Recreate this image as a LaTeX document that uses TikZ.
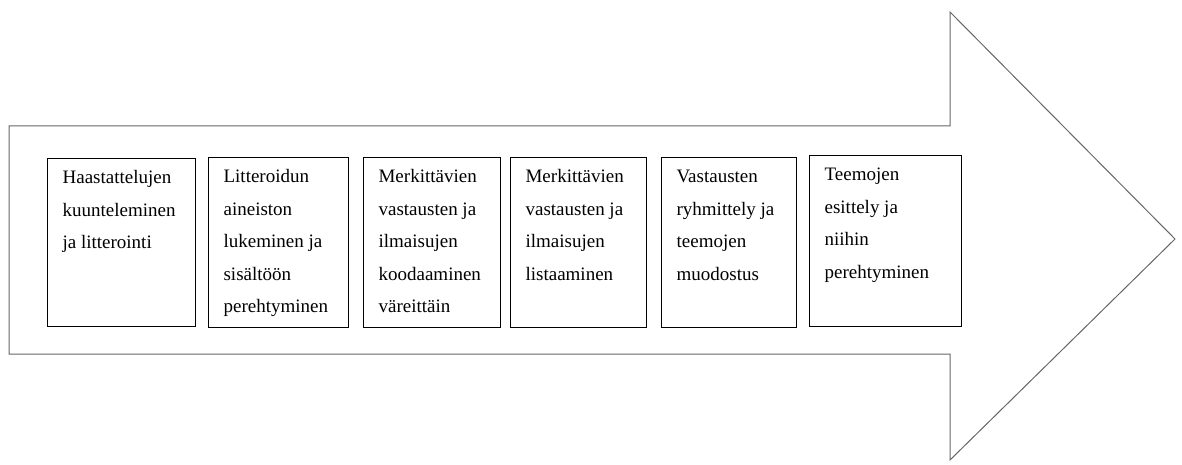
\documentclass[tikz,border=0pt]{standalone}
\usepackage{fontspec}
\setmainfont{Liberation Serif}

\newcommand{\steptext}[3]{\hspace*{15pt}\parbox[t][#2][t]{#1}{\rule{0pt}{25pt}#3}}

\tikzset{
	stepbox/.style={draw=black, line width=1.2pt, anchor=north west, inner sep=0pt, font=\fontsize{19}{32.5}\selectfont},
	bigarrow/.style={draw=black!60, line width=1pt, line join=miter}
}

\begin{document}
\begin{tikzpicture}[x=1pt,y=-1pt]
\useasboundingbox (0,0) rectangle (1182,465);

	%arrow
\draw[bigarrow] (9,126) -- (950,126) -- (950,12) -- (1175,239) -- (950,460) -- (950,354) -- (9,354) -- cycle;

	%step 1
\node[stepbox] (listen) at (47,158) {\steptext{133pt}{168pt}{Haastattelujen\\kuunteleminen\\ja litterointi}};

	%step 2
\node[stepbox] (read) at (208,157) {\steptext{125pt}{170pt}{Litteroidun\\aineiston\\lukeminen ja\\sisältöön\\perehtyminen}};

	%step 3
\node[stepbox] (code) at (363,157) {\steptext{122pt}{170pt}{Merkittävien\\vastausten ja\\ilmaisujen\\koodaaminen\\väreittäin}};

	%step 4
\node[stepbox] (list) at (510,157) {\steptext{121pt}{170pt}{Merkittävien\\vastausten ja\\ilmaisujen\\listaaminen}};

	%step 5
\node[stepbox] (group) at (661,157) {\steptext{120pt}{170pt}{Vastausten\\ryhmittely ja\\teemojen\\muodostus}};

	%step 6
\node[stepbox] (themes) at (809,155) {\steptext{137pt}{171pt}{Teemojen\\esittely ja\\niihin\\perehtyminen}};

\end{tikzpicture}
\end{document}
